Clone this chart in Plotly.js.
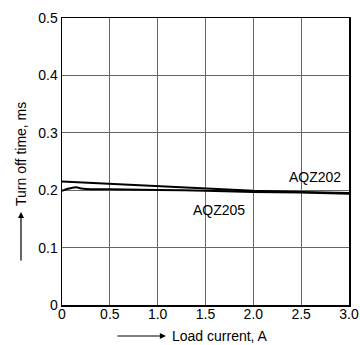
<!DOCTYPE html>
<html><head><meta charset="utf-8">
<script src="https://cdn.plot.ly/plotly-3.0.1.min.js"></script>
<style>html,body{margin:0;padding:0;background:#fff;}#chart{width:360px;height:345px;}</style>
</head><body><div id="chart"></div>
<script>
const xTicks = [0, 0.5, 1.0, 1.5, 2.0, 2.5, 3.0];
const xTickLabels = ["0", "0.5", "1.0", "1.5", "2.0", "2.5", "3.0"];
const yTicks = [0, 0.1, 0.2, 0.3, 0.4, 0.5];
const yTickLabels = ["0", "0.1", "0.2", "0.3", "0.4", "0.5"];
const aqz202X = [0, 0.5, 1.0, 1.5, 2.0, 2.5, 3.0];
const aqz202Y = [0.215, 0.211, 0.207, 0.203, 0.199, 0.197, 0.195];
const aqz205X = [0, 0.05, 0.1, 0.15, 0.2, 0.25, 0.5, 1.0, 1.5, 2.0, 2.5, 3.0];
const aqz205Y = [0.199, 0.202, 0.204, 0.205, 0.203, 0.202, 0.2015, 0.2005, 0.199, 0.197, 0.196, 0.194];

const font = {family: "Liberation Sans, Arial, sans-serif", size: 14, color: "#000"};
const traces = [
  {x: aqz202X, y: aqz202Y, mode: "lines", line: {color: "#000", width: 2}, name: "AQZ202", showlegend: false, hoverinfo: "skip"},
  {x: aqz205X, y: aqz205Y, mode: "lines", line: {color: "#000", width: 2, shape: "spline"}, name: "AQZ205", showlegend: false, hoverinfo: "skip"}
];
const layout = {
  width: 360, height: 345,
  margin: {l: 62, r: 11, t: 18, b: 40},
  paper_bgcolor: "#fff", plot_bgcolor: "#fff",
  font: font,
  xaxis: {range: [0, 3], tickvals: xTicks, ticktext: xTickLabels, showgrid: true, gridcolor: "#666", gridwidth: 1,
          zeroline: false, showline: true, mirror: true, linecolor: "#000", linewidth: 1.5, ticks: "", tickfont: font,
          ticklabelstandoff: -4, fixedrange: true},
  yaxis: {range: [0, 0.5], tickvals: yTicks, ticktext: yTickLabels, showgrid: true, gridcolor: "#666", gridwidth: 1,
          zeroline: false, showline: true, mirror: true, linecolor: "#000", linewidth: 1.5, ticks: "", tickfont: font, fixedrange: true},
  annotations: [
    {x: 2.64, y: 0.2225, xref: "x", yref: "y", text: "AQZ202", showarrow: false, font: font},
    {x: 1.64, y: 0.1655, xref: "x", yref: "y", text: "AQZ205", showarrow: false, font: font},
    {x: 0.376, y: -0.108, xref: "paper", yref: "paper", xanchor: "left", yanchor: "middle", text: "Load current, A", showarrow: false, font: font},
    {x: 0.362, y: -0.108, xref: "paper", yref: "paper", text: "", showarrow: true, ax: -50, ay: 0, arrowhead: 2, arrowsize: 1, arrowwidth: 1.2, arrowcolor: "#000"},
    {x: -0.1429, y: 0.338, xref: "paper", yref: "paper", xanchor: "center", yanchor: "bottom", text: "Turn off time, ms", textangle: -90, showarrow: false, font: font},
    {x: -0.1429, y: 0.324, xref: "paper", yref: "paper", text: "", showarrow: true, ax: 0, ay: 50, arrowhead: 2, arrowsize: 1, arrowwidth: 1.2, arrowcolor: "#000"}
  ]
};
Plotly.newPlot("chart", traces, layout, {displayModeBar: false, staticPlot: true});
</script></body></html>
